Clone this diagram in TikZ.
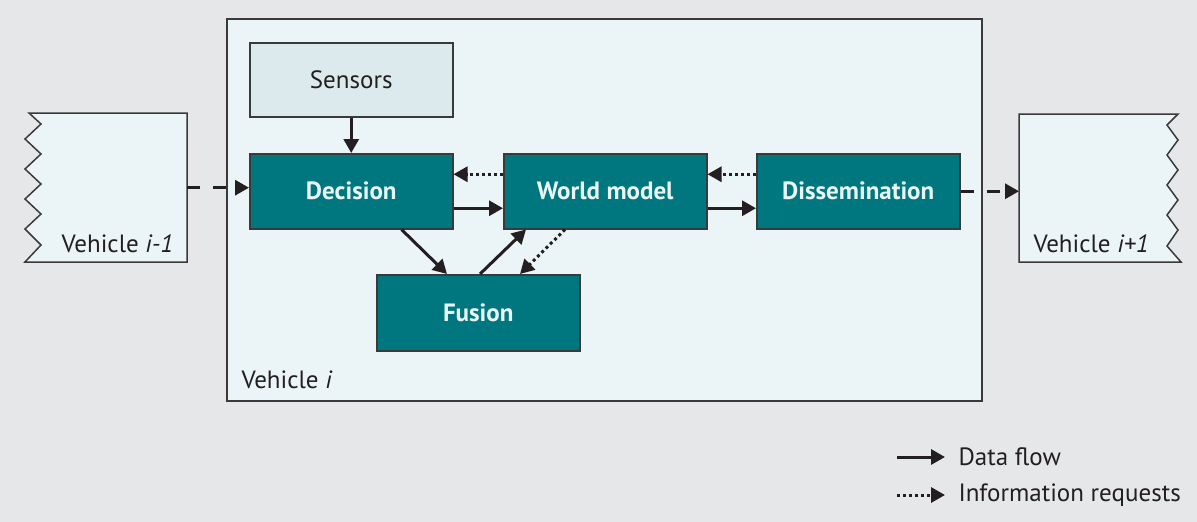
\documentclass[tikz,border=0pt]{standalone}
\usepackage{fontspec}
\setmainfont{PT Sans}
\usetikzlibrary{arrows.meta,positioning}
\definecolor{pagebg}{HTML}{E6E7E8}
\definecolor{hostbg}{HTML}{EBF4F7}
\definecolor{sensbg}{HTML}{DCEAEE}
\definecolor{teal}{HTML}{00777F}
\definecolor{ink}{HTML}{231F20}
\definecolor{edge}{HTML}{3A3A3A}
\definecolor{lighttext}{HTML}{EAF5F6}
\tikzset{
  x=1pt, y=-1pt,
  every node/.style={font=\fontsize{25}{29}\selectfont, text=ink},
  module/.style={draw=edge, line width=1.5pt, fill=teal, text=lighttext,
    font=\fontsize{25}{29}\selectfont\bfseries, minimum width=203pt,
    minimum height=75pt, inner sep=0pt},
  sensorbox/.style={draw=edge, line width=1.5pt, fill=sensbg, minimum height=74pt,
    minimum width=203pt, inner sep=0pt},
  flow/.style={draw=ink, line width=3pt, -{Triangle[length=14pt,width=15pt]}},
  request/.style={flow, dash pattern=on 3pt off 3pt},
  link/.style={flow, dash pattern=on 13pt off 13pt},
  outline/.style={draw=edge, line width=1.5pt, fill=hostbg},
}
\begin{document}
\begin{tikzpicture}
\useasboundingbox (0,0) rectangle (1197,522);
\fill[pagebg] (0,0) rectangle (1197,522);

% host vehicle frame
\draw[outline] (227,19) rectangle (982,401);
\node[anchor=base west] (hostlabel) at (238,388) {Vehicle \textit{i}};

% neighbouring vehicles (torn edge on the outer side)
\node[minimum width=162pt, minimum height=149pt, inner sep=0pt, anchor=north west] (prev) at (25,113) {};
\draw[outline] (187,113) -- (29,113) -- (41,124) -- (25,139) -- (41,154) -- (25,169)
  -- (41,184) -- (25,199) -- (41,214) -- (25,229) -- (41,245) -- (25,262) -- (187,262) -- cycle;
\node[anchor=base east] (prevlabel) at (177,252) {Vehicle \textit{i-1}};

\node[minimum width=162pt, minimum height=148pt, inner sep=0pt, anchor=north west] (next) at (1019,114) {};
\draw[outline] (1019,114) -- (1178,114) -- (1167,125) -- (1178,140) -- (1167,155) -- (1178,170)
  -- (1167,185) -- (1178,200) -- (1167,215) -- (1178,230) -- (1167,246) -- (1181,262) -- (1019,262) -- cycle;
\node[anchor=base west] (nextlabel) at (1030,252) {Vehicle \textit{i+1}};

% modules
\node[sensorbox, anchor=north west] (sensors) at (249,42) {Sensors};
\node[module, anchor=north west] (decision) at (249,153) {Decision};
\node[module, anchor=north west] (world) at (503,153) {World model};
\node[module, anchor=north west] (dissem) at (756,153) {Dissemination};
\node[module, minimum height=76pt, anchor=north west] (fusion) at (376,274) {Fusion};

% data flow
\draw[flow] (sensors.south) -- (sensors.south |- decision.north);
\draw[flow] ([yshift=-17pt]decision.east) -- ([yshift=-17pt]decision.east -| world.west);
\draw[flow] ([yshift=-17pt]world.east) -- ([yshift=-17pt]world.east -| dissem.west);
\draw[flow] ([xshift=-52pt]decision.south east) -- ([xshift=71pt]fusion.north west);
\draw[flow] ([xshift=104pt]fusion.north west) -- ([xshift=23pt]world.south west);

% information requests
\draw[request] ([yshift=17pt]world.west) -- ([yshift=17pt]world.west -| decision.east);
\draw[request] ([yshift=17pt]dissem.west) -- ([yshift=17pt]dissem.west -| world.east);
\draw[request] ([xshift=62pt]world.south west) -- ([xshift=144pt]fusion.north west);

% inter-vehicle links
\draw[link] (prev.east) -- (prev.east -| decision.west);
\draw[link] (dissem.east) -- (dissem.east -| next.west);

% legend
\coordinate (l1a) at (897,457);
\coordinate (l1b) at (945,457);
\coordinate (l2a) at (897,495);
\coordinate (l2b) at (945,495);
\draw[flow] (l1a) -- (l1b);
\draw[request] (l2a) -- (l2b);
\node[anchor=west] (lt1) at (955,457) {Data flow};
\node[anchor=west] (lt2) at (955,495) {Information requests};
\end{tikzpicture}
\end{document}
